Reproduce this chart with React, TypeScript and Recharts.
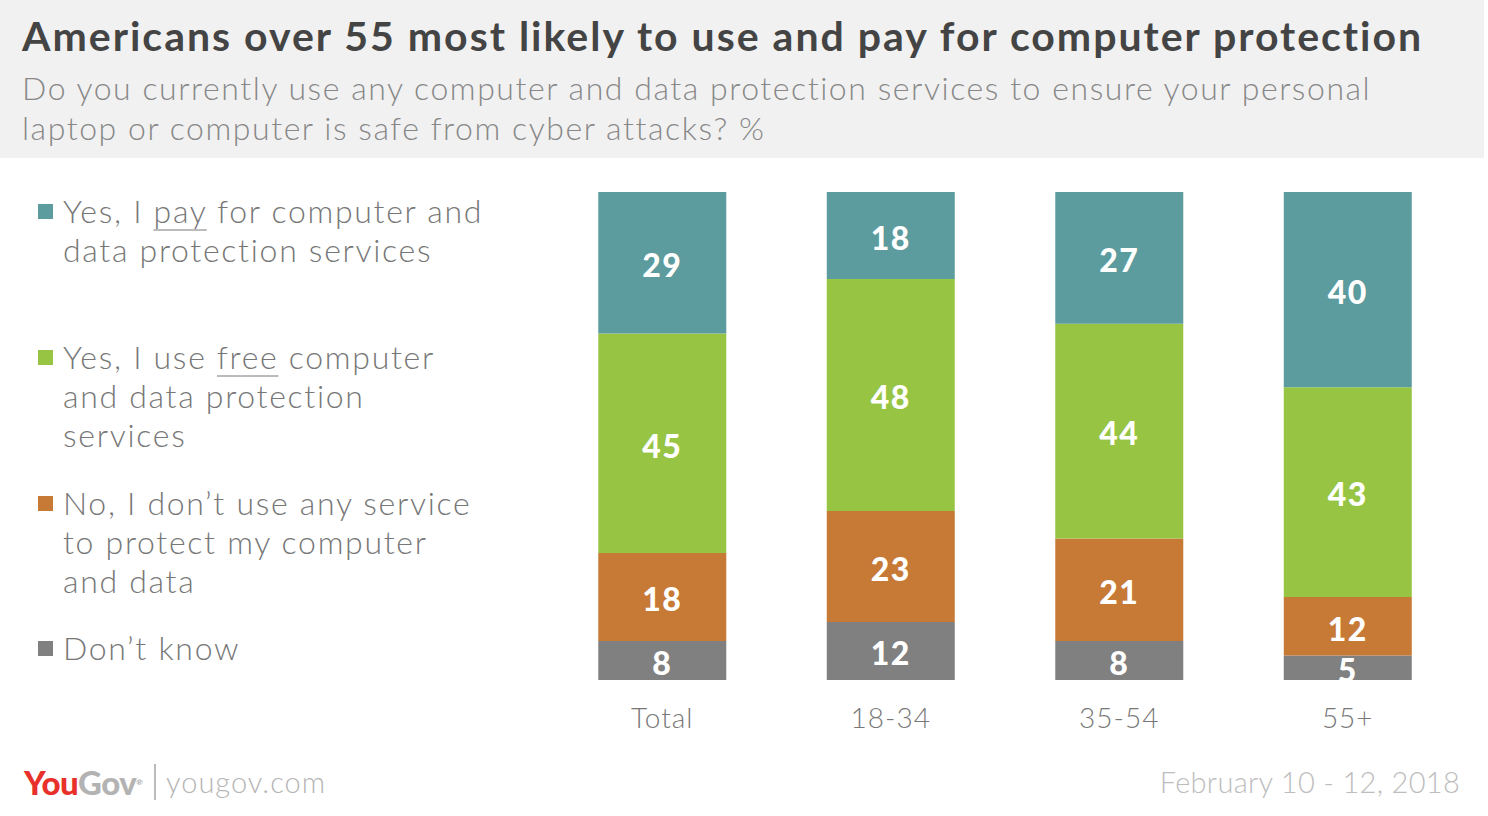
import { BarChart, Bar, XAxis, YAxis, LabelList } from "recharts";

const groups = ["Total", "18-34", "35-54", "55+"];
const paySeries = [29, 18, 27, 40];
const freeSeries = [45, 48, 44, 43];
const noneSeries = [18, 23, 21, 12];
const dontKnowSeries = [8, 12, 8, 5];

const legendItems = [
  { key: "pay", color: "#5c9b9e", lines: ["Yes, I |pay| for computer and", "data protection services"], top: 191 },
  { key: "free", color: "#97c543", lines: ["Yes, I use |free| computer", "and data protection", "services"], top: 337 },
  { key: "none", color: "#c77936", lines: ["No, I don’t use any service", "to protect my computer", "and data"], top: 483 },
  { key: "dk", color: "#808080", lines: ["Don’t know"], top: 628 },
];

const chartData = groups.map((g, i) => ({
  group: g,
  pay: paySeries[i],
  free: freeSeries[i],
  none: noneSeries[i],
  dk: dontKnowSeries[i],
}));

const FONT = "Lato, 'Open Sans', sans-serif";

// renders a line, underlining the part between | |
const renderLine = (line: string) => {
  const parts = line.split("|");
  return parts.map((p, i) =>
    i % 2 === 1 ? (
      <span key={i} style={{ textDecoration: "underline", textDecorationColor: "#bbb", textDecorationThickness: 2, textUnderlineOffset: 6 }}>
        {p}
      </span>
    ) : (
      <span key={i}>{p}</span>
    )
  );
};

const GroupTick = (props: any) => {
  const { x, y, payload } = props;
  return (
    <text x={x} y={y + 48} textAnchor="middle" fill="#777" fontSize={28} fontFamily={FONT} fontWeight={300} letterSpacing={1}>
      {payload.value}
    </text>
  );
};

const labelStyle = { fill: "#fff", fontSize: 32, fontWeight: 900, fontFamily: FONT, letterSpacing: 1.5 };

const App = () => {
  return (
    <div style={{ position: "absolute", left: 0, top: 0, width: 1488, height: 816, background: "#fff", fontFamily: FONT, overflow: "hidden" }}>
      <div style={{ position: "absolute", left: 0, top: 0, width: 1484, height: 158, background: "#f1f1f1" }} />
      <div style={{ position: "absolute", left: 22, top: 10, fontSize: 41, fontWeight: 700, color: "#444", whiteSpace: "nowrap", lineHeight: "52px", letterSpacing: 2 }}>
        Americans over 55 most likely to use and pay for computer protection
      </div>
      <div style={{ position: "absolute", left: 22, top: 68, width: 1460, fontSize: 32, fontWeight: 300, color: "#888", lineHeight: "40px", letterSpacing: 1.55, whiteSpace: "nowrap" }}>
        Do you currently use any computer and data protection services to ensure your personal
        <br />
        laptop or computer is safe from cyber attacks? %
      </div>

      {legendItems.map((item) => (
        <div key={item.key} style={{ position: "absolute", left: 38, top: item.top }}>
          <div style={{ position: "absolute", left: 0, top: 13, width: 15, height: 15, background: item.color }} />
          <div style={{ position: "absolute", left: 25, top: 0, fontSize: 32, fontWeight: 300, color: "#777", lineHeight: "39px", whiteSpace: "nowrap", letterSpacing: 1.7 }}>
            {item.lines.map((l, i) => (
              <div key={i}>{renderLine(l)}</div>
            ))}
          </div>
        </div>
      ))}

      <div style={{ position: "absolute", left: 0, top: 0 }}>
        <BarChart
          width={1488}
          height={816}
          data={chartData}
          stackOffset="expand"
          barCategoryGap="22%"
          margin={{ top: 192, right: 26, bottom: 76, left: 548 }}
        >
          <XAxis dataKey="group" axisLine={false} tickLine={false} tickSize={0} tickMargin={0} height={60} tick={<GroupTick />} interval={0} />
          <YAxis hide width={0} />
          <Bar dataKey="dk" stackId="a" fill="#808080" isAnimationActive={false}>
            <LabelList dataKey="dk" position="center" style={labelStyle} offset={0} dy={3} />
          </Bar>
          <Bar dataKey="none" stackId="a" fill="#c77936" isAnimationActive={false}>
            <LabelList dataKey="none" position="center" style={labelStyle} dy={3} />
          </Bar>
          <Bar dataKey="free" stackId="a" fill="#97c543" isAnimationActive={false}>
            <LabelList dataKey="free" position="center" style={labelStyle} dy={3} />
          </Bar>
          <Bar dataKey="pay" stackId="a" fill="#5c9b9e" isAnimationActive={false}>
            <LabelList dataKey="pay" position="center" style={labelStyle} dy={3} />
          </Bar>
        </BarChart>
      </div>

      <div style={{ position: "absolute", left: 24, top: 762, fontSize: 33, fontWeight: 900, letterSpacing: -0.5, lineHeight: "40px", whiteSpace: "nowrap" }}>
        <span style={{ color: "#e8312a" }}>You</span>
        <span style={{ color: "#b3b3b3" }}>Gov</span>
        <span style={{ color: "#b3b3b3", fontSize: 8, verticalAlign: "top", letterSpacing: 0 }}>®</span>
      </div>
      <div style={{ position: "absolute", left: 154, top: 764, width: 2, height: 36, background: "#bbb" }} />
      <div style={{ position: "absolute", left: 166, top: 762, fontSize: 29, fontWeight: 300, color: "#b5b5b5", lineHeight: "40px", letterSpacing: 1 }}>yougov.com</div>
      <div style={{ position: "absolute", right: 28, top: 762, fontSize: 29, fontWeight: 300, color: "#bdbdbd", lineHeight: "40px", whiteSpace: "nowrap", letterSpacing: 0.3 }}>
        February 10 - 12, 2018
      </div>
    </div>
  );
};

export default App;
